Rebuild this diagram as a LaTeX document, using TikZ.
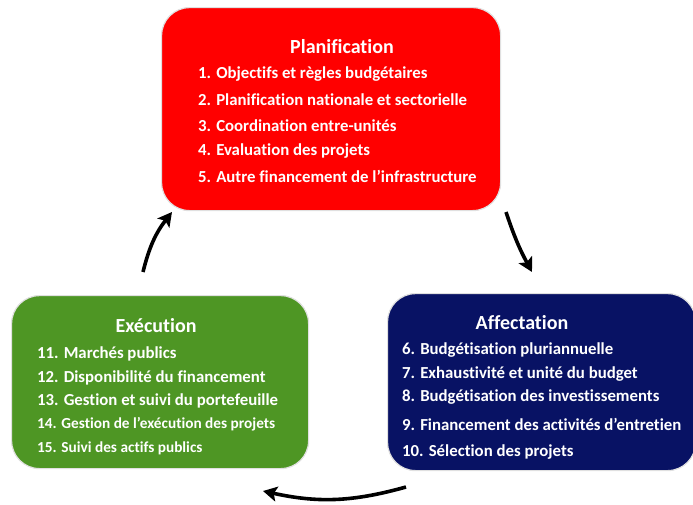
\documentclass[tikz,border=0pt]{standalone}
\usepackage{fontspec}
\setmainfont{Carlito}[Ligatures=NoCommon]
\usetikzlibrary{arrows.meta}
\definecolor{boxred}{RGB}{255,0,0}
\definecolor{boxgreen}{RGB}{78,150,36}
\definecolor{boxblue}{RGB}{8,18,100}
\tikzset{
  box/.style={draw=black!12, line width=1.2pt, rounded corners=28pt},
  ttl/.style={text=white, font=\bfseries\fontsize{20}{22}\selectfont, inner sep=0pt},
  itm/.style={text=white, font=\bfseries\fontsize{16.8}{18}\selectfont, anchor=west, inner sep=0pt},
  itmsmall/.style={itm, font=\bfseries\fontsize{15.3}{17}\selectfont},
  arr/.style={line width=3.6pt, -{Stealth[length=14pt,width=15pt,inset=3pt]}},
}
\begin{document}
\begin{tikzpicture}[x=1pt,y=-1pt]
\useasboundingbox (0,0) rectangle (693,504);
% boxes
\node[box, fill=boxred, minimum width=339pt, minimum height=203pt, anchor=north west] (plan) at (161,7) {};
\node[box, fill=boxgreen, minimum width=297pt, minimum height=173pt, anchor=north west] (exec) at (11,295) {};
\node[box, fill=boxblue, minimum width=308pt, minimum height=177pt, anchor=north west] (aff) at (387,293) {};
% Planification
\node[ttl] (pt) at (342,47) {Planification};
\node[itm] (p1) at (198,74) {1. Objectifs et règles budgétaires};
\node[itm] (p2) at (198,100) {2. Planification nationale et sectorielle};
\node[itm] (p3) at (198,126) {3. Coordination entre-unités};
\node[itm] (p4) at (198,151) {4. Evaluation des projets};
\node[itm] (p5) at (198,176) {5. Autre financement de l’infrastructure};
% Affectation
\node[ttl] (at) at (522,323) {Affectation};
\node[itm] (a6) at (402,350) {6. Budgétisation pluriannuelle};
\node[itm] (a7) at (402,374) {7. Exhaustivité et unité du budget};
\node[itm] (a8) at (402,397) {8. Budgétisation des investissements};
\node[itm] (a9) at (402,424) {9. Financement des activités d’entretien};
\node[itm] (a10) at (402,452) {10. Sélection des projets};
% Execution
\node[ttl] (et) at (156,326) {Exécution};
\node[itm] (e11) at (37,354) {11. Marchés publics};
\node[itm] (e12) at (37,378) {12. Disponibilité du financement};
\node[itm] (e13) at (37,401) {13. Gestion et suivi du portefeuille};
\node[itmsmall] (e14) at (37,424) {14. Gestion de l’exécution des projets};
\node[itmsmall] (e15) at (37,448) {15. Suivi des actifs publics};
% arrows
\coordinate (l1) at (143,272);
\coordinate (l2) at (172,212);
\coordinate (r1) at (506,212);
\coordinate (r2) at (532,272);
\coordinate (b1) at (406,487);
\coordinate (b2) at (263,491);
\draw[arr] (l1) to[bend left=12] (l2);
\draw[arr] (r1) to[bend right=5] (r2);
\draw[arr] (b1) to[bend left=14] (b2);
\end{tikzpicture}
\end{document}
